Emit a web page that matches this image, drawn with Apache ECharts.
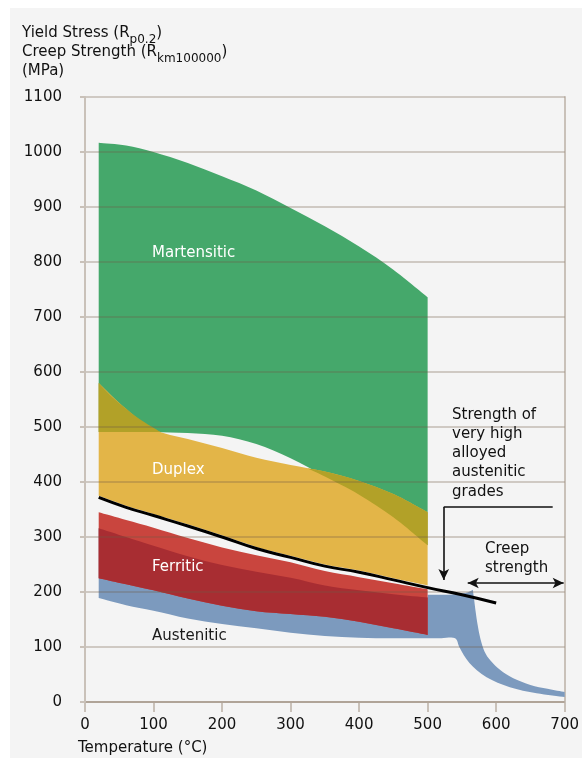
<!DOCTYPE html>
<html>
<head>
<meta charset="utf-8">
<script src="https://cdn.jsdelivr.net/npm/echarts@6/dist/echarts.min.js"></script>
<style>
  html, body { margin: 0; padding: 0; background: #fff; }
  #chart { width: 582px; height: 758px; }
</style>
</head>
<body>
<div id="chart"></div>
<script>
// temperatures (°C) where the band edges were read
const tempAxis = [20, 60, 100, 150, 200, 250, 300, 350, 400, 450, 500]

// Martensitic (green)
const martensiticTop = [1017, 1012, 1000, 980, 956, 930, 898, 865, 828, 786, 736]
const martensiticBottom = [491, 491, 491, 489, 484, 469, 443, 410, 377, 336, 285]

// Duplex (yellow)
const duplexTop = [580, 533, 496, 478, 462, 444, 431, 419, 402, 378, 345]
const duplexBottom = [375, 357, 342, 323, 303, 282, 266, 250, 239, 225, 212]

// overlap of martensitic and duplex (olive)
const oliveLeftTemp = [20, 40, 60, 80, 110]
const oliveLeftTop = [580, 554, 533, 514, 491]
const oliveLeftBottom = [491, 491, 491, 491, 491]
const oliveRightTemp = [324, 350, 400, 450, 500]
const oliveRightTop = [425, 419, 402, 378, 345]
const oliveRightBottom = [425, 410, 377, 336, 285]

// Ferritic (red)
const ferriticTop = [345, 331, 317, 298, 281, 267, 254, 238, 227, 216, 205]
const ferriticMid = [316, 300, 284, 265, 249, 237, 226, 212, 203, 196, 190]
const ferriticBottom = [225, 214, 203, 188, 175, 165, 160, 155, 146, 134, 122]

// Austenitic (blue)
const austeniticBottom = [189, 176, 166, 152, 142, 134, 126, 120, 117, 116, 116]
const tailTopTemp = [500, 530, 555, 566]
const tailTop = [195, 195, 198, 204]
const tailEdgeTemp = [566, 568, 570, 573, 577, 583, 592, 606, 625, 650, 675, 700]
const tailEdge = [204, 185, 165, 140, 115, 92, 75, 58, 43, 31, 24, 18]
const tailBottomTemp = [700, 659, 620, 586, 561, 547, 540, 520, 500]
const tailBottom = [9, 16, 27, 45, 71, 98, 116, 116, 116]

// very high alloyed austenitic grades (black line)
const alloyTemp = [20, 60, 100, 150, 200, 250, 300, 350, 400, 450, 500, 550, 600]
const alloyStrength = [372, 354, 339, 320, 300, 279, 263, 247, 236, 222, 208, 195, 180]

const fontFamily = '"DejaVu Sans", Verdana, sans-serif'
const axisColor = '#c9c1b9'

const pairs = (xs, ys) => xs.map((x, i) => [x, ys[i]])

// catmull-rom through pixel points
function curve(px) {
  let d = ''
  for (let i = 0; i < px.length - 1; i++) {
    const p0 = px[Math.max(i - 1, 0)]
    const p1 = px[i]
    const p2 = px[i + 1]
    const p3 = px[Math.min(i + 2, px.length - 1)]
    const c1x = p1[0] + (p2[0] - p0[0]) / 6
    const c1y = p1[1] + (p2[1] - p0[1]) / 6
    const c2x = p2[0] - (p3[0] - p1[0]) / 6
    const c2y = p2[1] - (p3[1] - p1[1]) / 6
    d += ` C${c1x} ${c1y} ${c2x} ${c2y} ${p2[0]} ${p2[1]}`
  }
  return d
}

function region(name, color, segments) {
  return {
    name,
    type: 'custom',
    coordinateSystem: 'cartesian2d',
    silent: true,
    z: 2,
    data: [[0, 0]],
    renderItem(params, api) {
      let d = ''
      segments.forEach((seg, k) => {
        const px = seg.map((p) => api.coord(p))
        d += (k === 0 ? 'M' : ' L') + px[0][0] + ' ' + px[0][1]
        d += curve(px)
      })
      d += ' Z'
      return { type: 'path', shape: { pathData: d }, style: { fill: color } }
    }
  }
}

function label(text, x, y, color) {
  return {
    type: 'text', x, y, z: 100, silent: true,
    style: { text, fill: color, font: `15px ${fontFamily}`, align: 'left', verticalAlign: 'middle' }
  }
}

function titleLine(text, y) {
  const main = { fontSize: 15, fontFamily, fill: '#111', lineHeight: 18, verticalAlign: 'top' }
  return {
    type: 'text', x: 22, y, z: 100, silent: true,
    style: {
      text,
      align: 'left',
      verticalAlign: 'top',
      rich: {
        a: main,
        s: { fontSize: 12, fontFamily, fill: '#111', lineHeight: 14, verticalAlign: 'top', padding: [8, 0, 0, 0] }
      }
    }
  }
}

const chart = echarts.init(document.getElementById('chart'))

chart.setOption({
  backgroundColor: '#fff',
  animation: false,
  grid: { left: 85, right: 17, top: 97, bottom: 56 },
  xAxis: {
    type: 'value', min: 0, max: 700, interval: 100,
    axisLine: { show: true, onZero: false, lineStyle: { color: axisColor, width: 2 } },
    axisTick: { show: true, length: 10, lineStyle: { color: axisColor, width: 2 } },
    axisLabel: { color: '#111', fontSize: 15, fontFamily, margin: 16 },
    splitLine: { show: false }
  },
  yAxis: [
    {
      type: 'value', min: 0, max: 1100, interval: 100, z: 10,
      axisLine: { show: true, lineStyle: { color: axisColor, width: 2 } },
      axisTick: { show: true, length: 5, lineStyle: { color: axisColor, width: 2 } },
      axisLabel: { color: '#111', fontSize: 15, fontFamily, margin: 23, formatter: (v) => String(v) },
      splitLine: { show: true, lineStyle: { color: 'rgba(110, 90, 70, 0.28)', width: 2 } }
    },
    {
      type: 'value', min: 0, max: 1100, interval: 100, position: 'right',
      axisLine: { show: true, lineStyle: { color: axisColor, width: 2 } },
      axisTick: { show: false },
      axisLabel: { show: false },
      splitLine: { show: false }
    }
  ],
  graphic: [
    { type: 'rect', silent: true, z: -10, shape: { x: 10, y: 8, width: 572, height: 750 }, style: { fill: '#f4f4f4' } },
    titleLine('{a|Yield Stress (R}{s|p0.2}{a|)}', 26),
    titleLine('{a|Creep Strength (R}{s|km100000}{a|)}', 45),
    titleLine('{a|(MPa)}', 64),
    label('Martensitic', 152, 253, '#fff'),
    label('Duplex', 152, 470, '#fff'),
    label('Ferritic', 152, 567, '#fff'),
    label('Austenitic', 152, 636, '#1a1a1a'),
    {
      type: 'text', x: 452, y: 405, z: 100, silent: true,
      style: {
        text: 'Strength of\nvery high\nalloyed\naustenitic\ngrades',
        fill: '#111', font: `15px ${fontFamily}`, lineHeight: 19.3, align: 'left', verticalAlign: 'top'
      }
    },
    {
      type: 'text', x: 485, y: 540, z: 100, silent: true,
      style: { text: 'Creep\nstrength', fill: '#111', font: `15px ${fontFamily}`, lineHeight: 19, align: 'left', verticalAlign: 'top' }
    },
    { type: 'text', x: 78, y: 748, z: 100, silent: true,
      style: { text: 'Temperature (°C)', fill: '#111', font: `15px ${fontFamily}`, align: 'left', verticalAlign: 'middle' } }
  ],
  series: [
    region('Martensitic', '#45a86b', [pairs(tempAxis, martensiticTop), pairs(tempAxis, martensiticBottom).reverse()]),
    region('Duplex', '#e3b548', [pairs(tempAxis, duplexTop), pairs(tempAxis, duplexBottom).reverse()]),
    region('Overlap left', '#b2a128', [pairs(oliveLeftTemp, oliveLeftTop), pairs(oliveLeftTemp, oliveLeftBottom).reverse()]),
    region('Overlap right', '#b2a128', [pairs(oliveRightTemp, oliveRightTop), pairs(oliveRightTemp, oliveRightBottom).reverse()]),
    region('Austenitic', '#7c9abe', [
      pairs(tempAxis, ferriticMid),
      pairs(tailTopTemp, tailTop),
      pairs(tailEdgeTemp, tailEdge),
      pairs(tailBottomTemp, tailBottom),
      pairs(tempAxis, austeniticBottom).reverse()
    ]),
    region('Ferritic', '#c9453e', [pairs(tempAxis, ferriticTop), pairs(tempAxis, ferriticBottom).reverse()]),
    region('Ferritic low', '#a82d32', [pairs(tempAxis, ferriticMid), pairs(tempAxis, ferriticBottom).reverse()]),
    {
      name: 'High alloyed austenitic',
      type: 'line',
      z: 20,
      smooth: true,
      symbol: 'none',
      silent: true,
      data: pairs(alloyTemp, alloyStrength),
      lineStyle: { color: '#000', width: 3 },
      markLine: {
        silent: true,
        animation: false,
        symbol: ['none', 'none'],
        symbolSize: [8, 11],
        label: { show: false },
        lineStyle: { color: '#111', width: 1.6, type: 'solid' },
        data: [
          [{ coord: [682.5, 354.5] }, { coord: [523.5, 354.5] }],
          [{ coord: [523.5, 354.5] }, { coord: [523.5, 222], symbol: 'arrow' }],
          [{ coord: [558.5, 216.4], symbol: 'arrow' }, { coord: [698.5, 216.4], symbol: 'arrow' }]
        ]
      }
    }
  ]
})
</script>
</body>
</html>
